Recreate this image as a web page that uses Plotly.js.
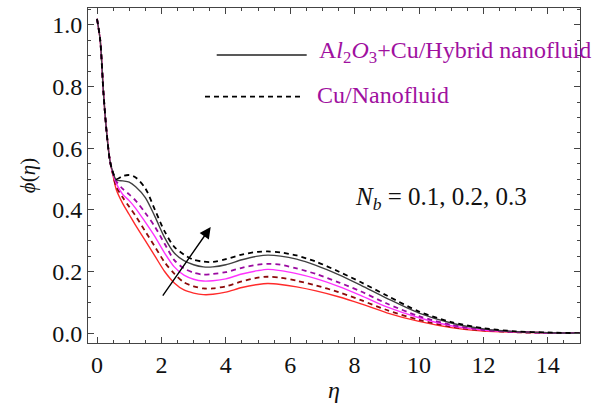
<!DOCTYPE html>
<html>
<head>
<meta charset="utf-8">
<script src="https://cdn.plot.ly/plotly-3.0.1.min.js"></script>
<style>html,body{margin:0;padding:0;background:#fff;}#chart{width:606px;height:411px;}</style>
</head>
<body>
<div id="chart"></div>
<script>
// eta grid
const eta = [0, 0.1, 0.2, 0.3, 0.4, 0.5, 0.6, 0.8, 1.0, 1.2, 1.5, 1.8, 2.1, 2.4, 2.7, 3.0, 3.3, 3.6, 4.0, 4.5, 5.0, 5.3, 5.7, 6.2, 6.8, 7.5, 8.2, 9.0, 10.0, 11.0, 12.0, 13.0, 14.0, 15.0];

// Hybrid nanofluid (solid)
const hybridNb01 = [1.02, 0.95, 0.78, 0.65, 0.56, 0.51, 0.465, 0.42, 0.385, 0.35, 0.30, 0.25, 0.20, 0.163, 0.14, 0.13, 0.125, 0.126, 0.133, 0.148, 0.158, 0.161, 0.158, 0.15, 0.137, 0.118, 0.095, 0.066, 0.038, 0.018, 0.007, 0.003, 0.001, 0.0];
const hybridNb02 = [1.02, 0.95, 0.78, 0.65, 0.56, 0.515, 0.485, 0.45, 0.43, 0.405, 0.36, 0.313, 0.26, 0.215, 0.188, 0.175, 0.169, 0.17, 0.176, 0.192, 0.203, 0.207, 0.203, 0.193, 0.177, 0.152, 0.122, 0.085, 0.05, 0.024, 0.01, 0.004, 0.001, 0.0];
const hybridNb03 = [1.02, 0.95, 0.78, 0.65, 0.56, 0.52, 0.497, 0.494, 0.49, 0.475, 0.44, 0.378, 0.31, 0.26, 0.235, 0.222, 0.215, 0.215, 0.222, 0.238, 0.25, 0.253, 0.25, 0.24, 0.22, 0.19, 0.155, 0.113, 0.065, 0.033, 0.014, 0.005, 0.0015, 0.0];

// Cu nanofluid (dashed)
const cuNb01 = [1.02, 0.95, 0.78, 0.65, 0.56, 0.513, 0.475, 0.44, 0.41, 0.38, 0.33, 0.28, 0.23, 0.193, 0.165, 0.152, 0.145, 0.145, 0.152, 0.168, 0.18, 0.183, 0.18, 0.17, 0.155, 0.133, 0.107, 0.075, 0.043, 0.021, 0.009, 0.003, 0.001, 0.0];
const cuNb02 = [1.02, 0.95, 0.78, 0.65, 0.56, 0.518, 0.493, 0.468, 0.45, 0.43, 0.39, 0.345, 0.29, 0.237, 0.21, 0.196, 0.19, 0.192, 0.198, 0.212, 0.222, 0.225, 0.222, 0.21, 0.192, 0.165, 0.135, 0.096, 0.055, 0.027, 0.011, 0.004, 0.001, 0.0];
const cuNb03 = [1.02, 0.95, 0.78, 0.65, 0.56, 0.52, 0.50, 0.51, 0.513, 0.505, 0.47, 0.40, 0.33, 0.28, 0.255, 0.238, 0.232, 0.231, 0.24, 0.255, 0.264, 0.265, 0.262, 0.252, 0.232, 0.20, 0.165, 0.122, 0.07, 0.036, 0.016, 0.006, 0.002, 0.0];

const xTicks = [0, 2, 4, 6, 8, 10, 12, 14];
const yTicks = [0.0, 0.2, 0.4, 0.6, 0.8, 1.0];
const yTickLabels = ["0.0", "0.2", "0.4", "0.6", "0.8", "1.0"];

const series = [
  {y: hybridNb01, color: "#ff2a2a", dash: "solid"},
  {y: cuNb01, color: "#8b0a0a", dash: "5px,4px"},
  {y: hybridNb02, color: "#ff33ff", dash: "solid"},
  {y: cuNb02, color: "#9a0aa0", dash: "5px,4px"},
  {y: hybridNb03, color: "#404040", dash: "solid"},
  {y: cuNb03, color: "#000000", dash: "5px,4px"}
];

const traces = series.map(s => ({
  x: eta, y: s.y, type: "scatter", mode: "lines",
  line: {color: s.color, width: s.dash === "solid" ? 1.4 : 1.8, dash: s.dash, shape: "spline", smoothing: 0.8},
  showlegend: false, hoverinfo: "skip"
}));

const font = "Liberation Serif, Times New Roman, serif";
const axisCommon = {
  showline: true, linecolor: "#444", linewidth: 1, mirror: "ticks",
  ticks: "inside", ticklen: 6, tickwidth: 1, tickcolor: "#444",
  showgrid: false, zeroline: false,
  tickfont: {family: font, size: 24, color: "#111"}
};

const layout = {
  width: 606, height: 411,
  margin: {l: 88, r: 26, t: 8, b: 68},
  paper_bgcolor: "#fff", plot_bgcolor: "#fff",
  showlegend: false,
  xaxis: Object.assign({}, axisCommon, {
    range: [-0.28, 15], tickvals: xTicks, ticktext: xTicks.map(String),
    minor: {dtick: 0.5, tick0: 0, ticks: "inside", ticklen: 3, tickcolor: "#444", showgrid: false},
    title: {text: "<i>η</i>", font: {family: font, size: 24, color: "#111"}, standoff: 4}
  }),
  yaxis: Object.assign({}, axisCommon, {
    range: [-0.032, 1.055], tickvals: yTicks, ticktext: yTickLabels,
    minor: {dtick: 0.05, tick0: 0, ticks: "inside", ticklen: 3, tickcolor: "#444", showgrid: false},
    title: {text: "<i>ϕ</i>(<i>η</i>)", font: {family: font, size: 21, color: "#111"}, standoff: 10}
  }),
  shapes: [
    {type: "line", xref: "paper", yref: "paper", x0: 0.2616, x1: 0.4445, y0: 0.8597, y1: 0.8597, line: {color: "#222", width: 1.4}},
    {type: "line", xref: "paper", yref: "paper", x0: 0.2378, x1: 0.4343, y0: 0.7352, y1: 0.7352, line: {color: "#000", width: 1.8, dash: "5px,4px"}}
  ],
  annotations: [
    {xref: "paper", yref: "paper", x: 0.466, y: 0.8687, xanchor: "left", yanchor: "middle", showarrow: false,
     text: "A<i>l</i><sub>2</sub><i>O</i><sub>3</sub>+Cu/Hybrid nanofluid", font: {family: font, size: 24, color: "#a0109f"}},
    {xref: "paper", yref: "paper", x: 0.462, y: 0.740, xanchor: "left", yanchor: "middle", showarrow: false,
     text: "Cu/Nanofluid", font: {family: font, size: 24, color: "#a0109f"}},
    {xref: "paper", yref: "paper", x: 0.5386, y: 0.4328, xanchor: "left", yanchor: "middle", showarrow: false,
     text: "<i>N</i><sub><i>b</i></sub> = 0.1, 0.2, 0.3", font: {family: font, size: 25, color: "#111"}},
    {xref: "x", yref: "y", x: 3.53, y: 0.344, axref: "x", ayref: "y", ax: 2.01, ay: 0.117,
     text: "", showarrow: true, arrowhead: 2, arrowsize: 1.6, arrowwidth: 1.4, arrowcolor: "#000"}
  ]
};

Plotly.newPlot("chart", traces, layout, {staticPlot: true, displayModeBar: false});
</script>
</body>
</html>
